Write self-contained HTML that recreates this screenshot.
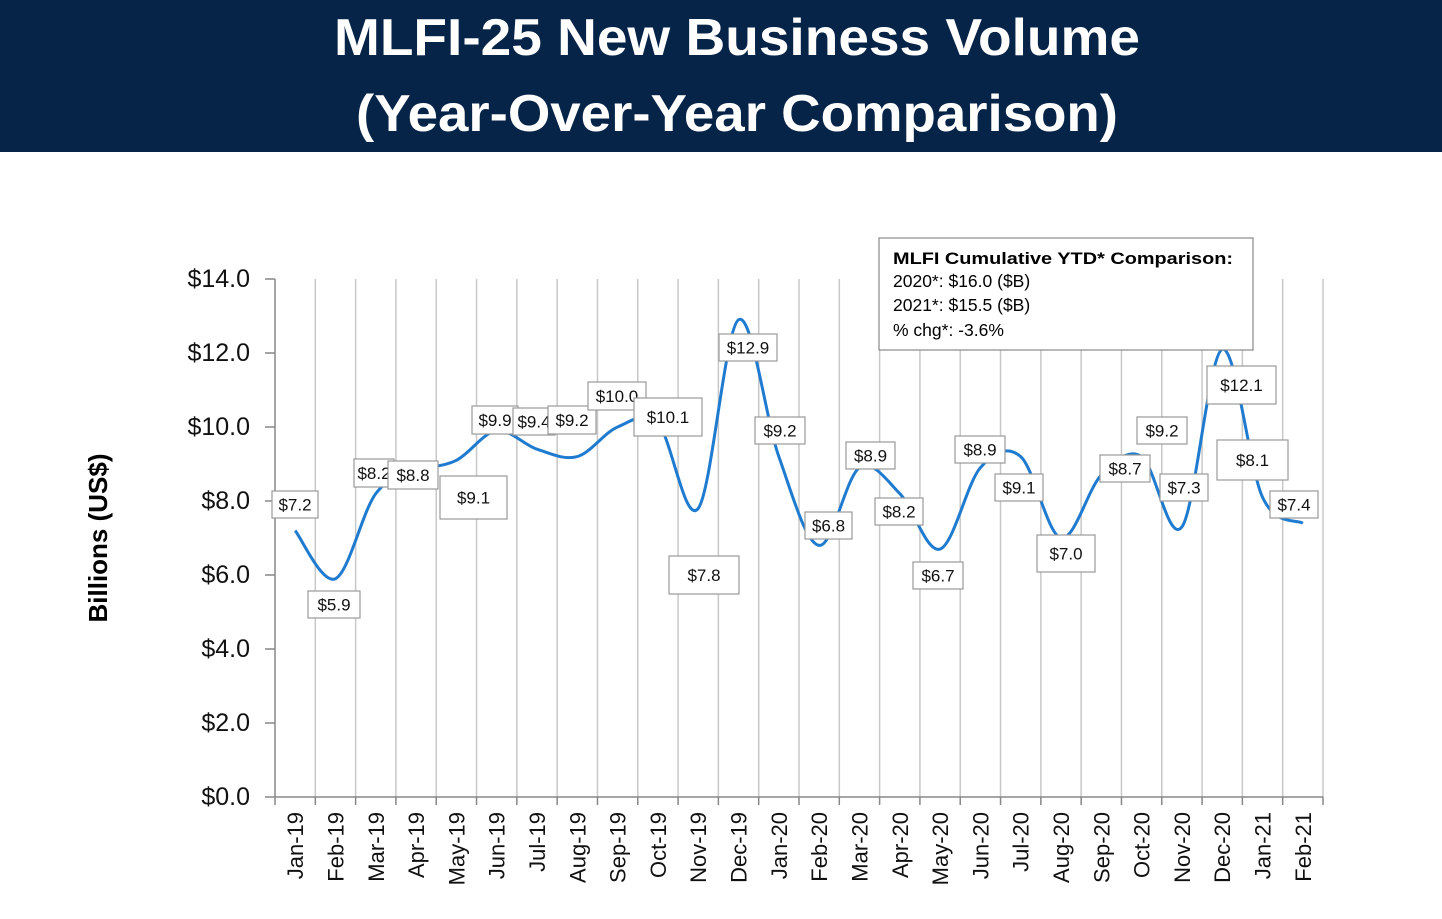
<!DOCTYPE html>
<html><head><meta charset="utf-8"><style>
body{margin:0;background:#fff;}
</style></head><body>
<svg width="1442" height="914" xmlns="http://www.w3.org/2000/svg" font-family="Liberation Sans, Arial, sans-serif">
<rect x="0" y="0" width="1442" height="152" fill="#062348"/>
<text x="737" y="55" fill="#fff" font-size="52" font-weight="bold" text-anchor="middle" textLength="806" lengthAdjust="spacingAndGlyphs">MLFI-25 New Business Volume</text>
<text x="737" y="131" fill="#fff" font-size="52" font-weight="bold" text-anchor="middle" textLength="762" lengthAdjust="spacingAndGlyphs">(Year-Over-Year Comparison)</text>
<g id="grid" stroke="#c8c8c8" stroke-width="1.5"></g>
<g id="axes" stroke="#888" stroke-width="1.5"></g>
<g id="ylab" font-size="25" fill="#111" text-anchor="end"></g>
<g id="xlab" font-size="22" fill="#111"></g>
<text transform="translate(107,538) rotate(-90)" font-size="26" font-weight="bold" text-anchor="middle" fill="#000">Billions (US$)</text>
<path id="line" fill="none" stroke="#1f7bd0" stroke-width="3"/>
<g id="labels" font-size="17" fill="#111"></g>
<rect x="879" y="238" width="374" height="112" fill="#fff" stroke="#888" stroke-width="1.2"/>
<text x="893" y="264" font-size="17" font-weight="bold" fill="#000" textLength="340" lengthAdjust="spacingAndGlyphs">MLFI Cumulative YTD* Comparison:</text>
<text x="893" y="287" font-size="17.5" fill="#000">2020*: $16.0 ($B)</text>
<text x="893" y="311" font-size="17.5" fill="#000">2021*: $15.5 ($B)</text>
<text x="893" y="336" font-size="17.5" fill="#000">% chg*:  -3.6%</text>
</svg>
<script>
const NS="http://www.w3.org/2000/svg";
function el(p,t,a,txt){const e=document.createElementNS(NS,t);for(const k in a)e.setAttribute(k,a[k]);if(txt!==undefined)e.textContent=txt;document.getElementById(p).appendChild(e);return e;}
const x0=275,x1=1323,n=26,cw=(x1-x0)/n,y0=797,py=37;
const months=["Jan-19","Feb-19","Mar-19","Apr-19","May-19","Jun-19","Jul-19","Aug-19","Sep-19","Oct-19","Nov-19","Dec-19","Jan-20","Feb-20","Mar-20","Apr-20","May-20","Jun-20","Jul-20","Aug-20","Sep-20","Oct-20","Nov-20","Dec-20","Jan-21","Feb-21"];
const vals=[7.2,5.9,8.2,8.8,9.1,9.9,9.4,9.2,10.0,10.1,7.8,12.9,9.2,6.8,8.9,8.2,6.7,8.9,9.2,7.0,8.7,9.2,7.3,12.1,8.1,7.4];
for(let i=1;i<=n;i++){const x=x0+i*cw;el("grid","line",{x1:x,y1:279,x2:x,y2:797});}
el("axes","line",{x1:x0,y1:279,x2:x0,y2:797});
el("axes","line",{x1:x0,y1:797,x2:x1,y2:797});
for(let i=0;i<=n;i++){const x=x0+i*cw;el("axes","line",{x1:x,y1:797,x2:x,y2:805});}
for(let v=0;v<=14;v+=2){const y=y0-v*py;el("axes","line",{x1:265,y1:y,x2:x0,y2:y});el("ylab","text",{x:250,y:y+8},"$"+v.toFixed(1));}
months.forEach((m,i)=>{const x=x0+(i+0.5)*cw;el("xlab","text",{transform:`translate(${x+8},812) rotate(-90)`,"text-anchor":"end"},m);});
const P=vals.map((v,i)=>[x0+(i+0.5)*cw,y0-v*py]);
let d=`M${P[0][0]},${P[0][1]}`;
for(let i=0;i<P.length-1;i++){const p0=P[i-1]||P[i],p1=P[i],p2=P[i+1],p3=P[i+2]||p2,t=6;
d+=` C${p1[0]+(p2[0]-p0[0])/t},${p1[1]+(p2[1]-p0[1])/t} ${p2[0]-(p3[0]-p1[0])/t},${p2[1]-(p3[1]-p1[1])/t} ${p2[0]},${p2[1]}`;}
document.getElementById("line").setAttribute("d",d);
const L=[["$7.2",272,491,46,27],["$5.9",308,591,52,27],["$8.2",354,459,40,28],["$8.8",388,461,50,28],["$9.1",440,476,67,43],["$9.9",472,406,46,28],["$9.4",513,408,42,27],["$9.2",548,406,48,28],["$10.0",588,382,58,28],["$10.1",634,398,68,38],["$7.8",669,556,70,38],["$12.9",719,334,58,27],["$9.2",755,417,50,27],["$6.8",805,512,47,27],["$8.9",846,442,49,27],["$8.2",875,498,48,27],["$6.7",913,562,50,27],["$8.9",955,436,50,27],["$9.1",995,474,48,27],["$7.0",1037,535,58,37],["$8.7",1100,455,50,27],["$9.2",1137,417,50,27],["$7.3",1160,474,48,27],["$12.1",1207,366,69,38],["$8.1",1217,440,71,40],["$7.4",1270,491,48,27]];
L.forEach(([t,x,y,w,h])=>{el("labels","rect",{x:x,y:y,width:w,height:h,fill:"#fff",stroke:"#999","stroke-width":1.2});
el("labels","text",{x:x+w/2,y:y+h/2+6,"text-anchor":"middle"},t);});
</script>
</body></html>
